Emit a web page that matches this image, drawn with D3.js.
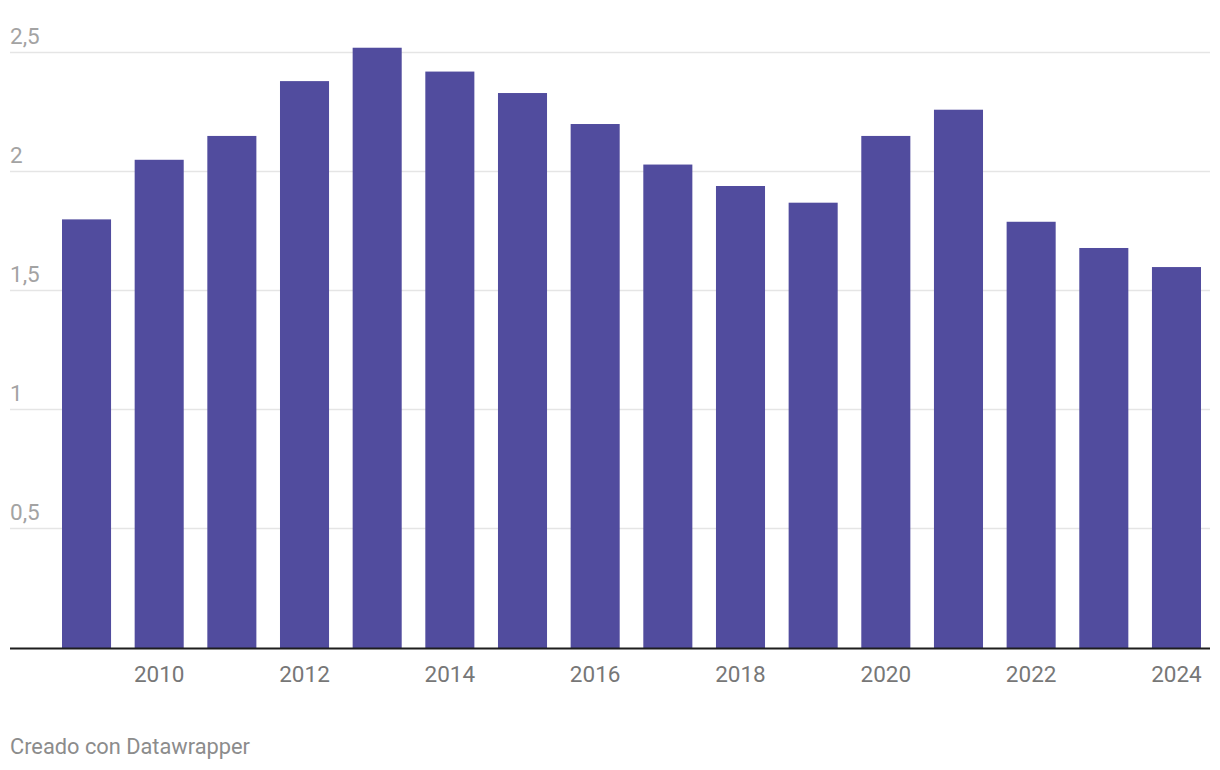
<!DOCTYPE html>
<html>
<head>
<meta charset="utf-8">
<script src="https://cdn.jsdelivr.net/npm/d3@7"></script>
<style>
  body { margin: 0; background: #fff; font-family: Roboto, "Noto Sans", sans-serif; }
  svg { display: block; }
</style>
</head>
<body>
<svg id="chart" width="1220" height="770"></svg>
<script>
"use strict";

// data
var years = [2009, 2010, 2011, 2012, 2013, 2014, 2015, 2016, 2017, 2018, 2019, 2020, 2021, 2022, 2023, 2024];
var values = [1.80, 2.05, 2.15, 2.38, 2.52, 2.42, 2.33, 2.20, 2.03, 1.94, 1.87, 2.15, 2.26, 1.79, 1.68, 1.60];
var yTicks = [0.5, 1, 1.5, 2, 2.5];
var xTickYears = [2010, 2012, 2014, 2016, 2018, 2020, 2022, 2024];

var svg = d3.select('#chart');

var x = d3.scaleBand()
    .domain(years)
    .range([62, 1201])
    .paddingInner(0.325)
    .paddingOuter(0);

var y = d3.scaleLinear()
    .domain([0, 2.5])
    .range([648.5, 52.5]);

var fmt = function(d) { return String(d).replace('.', ','); };

// gridlines
var grid = svg.append('g').attr('class', 'grid');
grid.selectAll('line')
    .data(yTicks)
    .enter()
    .append('line')
    .attr('x1', 10)
    .attr('x2', 1210)
    .attr('y1', function(d) { return Math.round(y(d)) - 0.5; })
    .attr('y2', function(d) { return Math.round(y(d)) - 0.5; })
    .attr('stroke', '#e5e5e5')
    .attr('stroke-width', 1.5);

grid.selectAll('text')
    .data(yTicks)
    .enter()
    .append('text')
    .attr('x', 10)
    .attr('y', function(d) { return y(d) - 9; })
    .attr('fill', '#a3a3a3')
    .attr('font-size', 22.5)
    .text(fmt);

// bars
svg.append('g')
    .selectAll('rect')
    .data(values)
    .enter()
    .append('rect')
    .attr('x', function(d, i) { return x(years[i]); })
    .attr('width', x.bandwidth())
    .attr('y', function(d) { return y(d); })
    .attr('height', function(d) { return y(0) - y(d); })
    .attr('fill', '#514c9e');

// baseline
svg.append('line')
    .attr('x1', 10)
    .attr('x2', 1210)
    .attr('y1', y(0))
    .attr('y2', y(0))
    .attr('stroke', '#1d1d1d')
    .attr('stroke-width', 2);

// x labels
svg.append('g')
    .selectAll('text')
    .data(xTickYears)
    .enter()
    .append('text')
    .attr('x', function(d) { return x(d) + x.bandwidth() / 2; })
    .attr('y', 682)
    .attr('text-anchor', 'middle')
    .attr('fill', '#777777')
    .attr('font-size', 22.5)
    .text(function(d) { return d; });

// footer
svg.append('text')
    .attr('x', 10)
    .attr('y', 754)
    .attr('fill', '#8c8c8c')
    .attr('font-size', 21.8)
    .text('Creado con Datawrapper');
</script>
</body>
</html>
